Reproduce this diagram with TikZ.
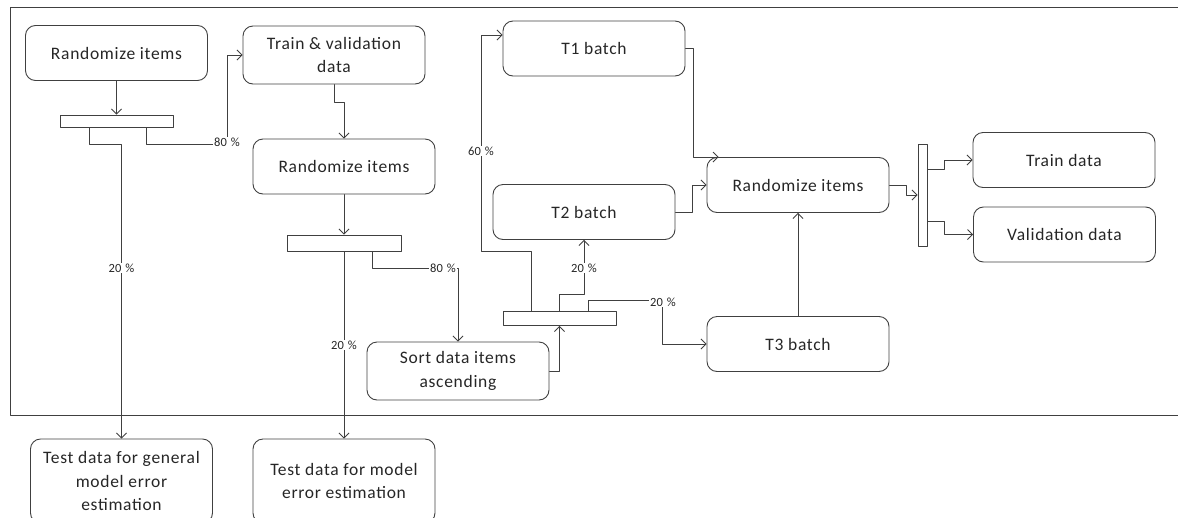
\documentclass[tikz,border=0pt]{standalone}
\usepackage{fontspec}
\setmainfont{Carlito}[LetterSpace=4]
\newfontfamily\lblfont{Carlito}
\usetikzlibrary{arrows.meta, calc, positioning}
\definecolor{linegray}{RGB}{64, 64, 64}
\newcommand{\pct}[1]{#1\hspace{4pt}\%}

\tikzset{
  box/.style={draw=linegray, line width=0.9pt, rounded corners=10pt, align=center,
    minimum width=182pt, minimum height=55pt, inner sep=2pt, text=black!85,
    font=\fontsize{17.5}{23.5}\selectfont},
  splitbar/.style={draw=linegray, line width=0.9pt, fill=white, inner sep=0pt},
  flow/.style={draw=linegray, line width=0.8pt, -{Straight Barb[length=5pt,width=10pt]}},
  lbl/.style={fill=white, inner sep=1pt, text=black!85, font=\lblfont\fontsize{12.5}{12.5}\selectfont}
}

\begin{document}
\begin{tikzpicture}[x=1pt, y=-1pt, line cap=round, line join=round]
    \useasboundingbox (0,0) rectangle (1178,517);

    % frame
    \draw [linegray, line width=0.9pt] (1190,7) -- (10,7) -- (10,415) -- (1190,415);

    % boxes
    \node [box] (rand1) at (116.5,53) {Randomize items};
    \node [box, minimum height=58pt] (trainval) at (334,55) {Train \& validation\\data};
    \node [box] (rand2) at (344,166.5) {Randomize items};
    \node [box, minimum height=58pt] (sort) at (458,371) {Sort data items\\ascending};
    \node [box, minimum height=84pt] (test1) at (121.5,481) {Test data for general\\model error\\estimation};
    \node [box, minimum height=84pt] (test2) at (344,481) {Test data for model\\error estimation};
    \node [box] (tone) at (594,48.5) {T1 batch};
    \node [box] (ttwo) at (584,212) {T2 batch};
    \node [box] (tthree) at (798,344) {T3 batch};
    \node [box] (rand3) at (798,185) {Randomize items};
    \node [box] (traind) at (1064,160) {Train data};
    \node [box] (validd) at (1064.5,234.5) {Validation data};

    % split bars
    \node [splitbar, minimum width=113pt, minimum height=12pt] (split1) at (116.5,121) {};
    \node [splitbar, minimum width=114pt, minimum height=16pt] (split2) at (344,243) {};
    \node [splitbar, minimum width=113pt, minimum height=14pt] (split3) at (559.5,318.5) {};
    \node [splitbar, minimum width=9pt, minimum height=102pt] (split4) at (922.5,195) {};

    % connectors
    \draw [flow] (rand1) -- (split1);
    \draw [flow] ([xshift=-27.5pt]split1.south) |- (121.5,144) -- (test1.north);
    \draw [flow] ([xshift=29.5pt]split1.south) |- (227,144) |- (trainval.west);
    \draw [flow] (trainval.south) |- (344,102) -- (rand2.north);
    \draw [flow] (rand2) -- (split2);
    \draw [flow] (split2.south) -- (test2.north);
    \draw [flow] ([xshift=28pt]split2.south) |- (458,268) -- (sort.north);
    \draw [flow] (sort.east) -| (split3.south);
    \draw [flow] ([xshift=-28pt]split3.north) |- (481,251) |- ([yshift=13.5pt]tone.west);
    \draw [flow] (split3.north) |- (584,294) -- (ttwo.south);
    \draw [flow] ([xshift=28.5pt]split3.north) |- (662,300) |- (tthree.west);
    \draw [flow] (tone.east) -- ++(8,0) |- ([xshift=12pt]rand3.north west);
    \draw [flow] (ttwo.east) -- ++(17,0) |- (rand3.west);
    \draw [flow] (tthree.north) -- (rand3.south);
    \draw [flow] (rand3.east) -- ++(17,0) |- (split4.west);
    \draw [flow] ([yshift=26pt]split4.east) -- ++(17,0) |- (traind.west);
    \draw [flow] ([yshift=-26pt]split4.east) -- ++(17,0) |- (validd.west);

    % percentages
    \node [lbl] (p80a) at (227,142) {\pct{80}};
    \node [lbl] (p20a) at (121.5,268) {\pct{20}};
    \node [lbl] (p20b) at (344,345) {\pct{20}};
    \node [lbl, anchor=east] (p80b) at (457,268) {\pct{80}};
    \node [lbl] (p60) at (481,151) {\pct{60}};
    \node [lbl] (p20c) at (584,268) {\pct{20}};
    \node [lbl] (p20d) at (663,302) {\pct{20}};
\end{tikzpicture}
\end{document}
